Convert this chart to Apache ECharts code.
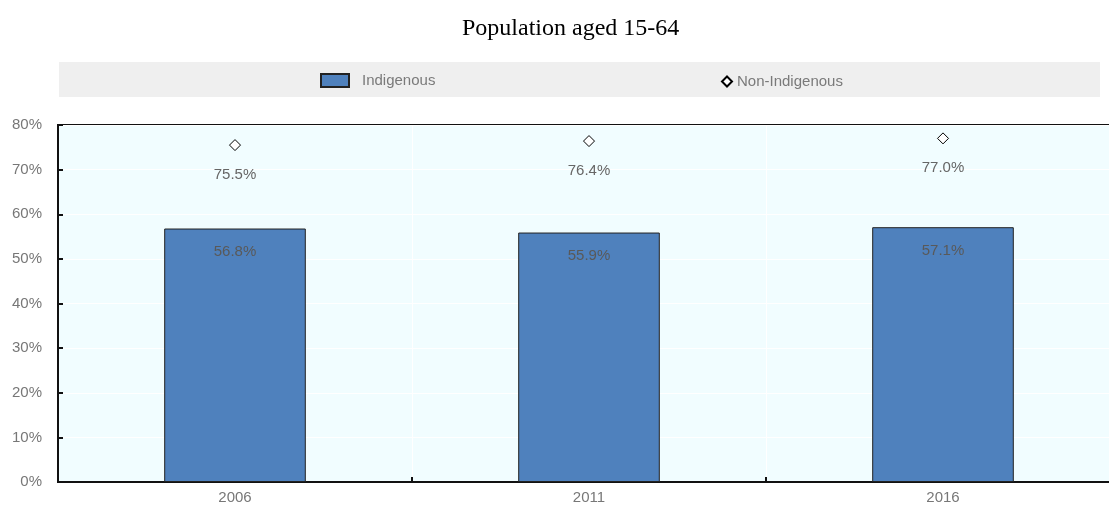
<!DOCTYPE html>
<html>
<head>
<meta charset="utf-8">
<script src="https://cdn.jsdelivr.net/npm/echarts@6/dist/echarts.min.js"></script>
<style>html,body{margin:0;padding:0;background:#fff}#c{width:1109px;height:506px}</style>
</head>
<body>
<div id="c"></div>
<script>
const categories = ['2006', '2011', '2016'];
const indigenous = [56.8, 55.9, 57.1];
const nonIndigenous = [75.5, 76.4, 77.0];
const yTicks = [0, 10, 20, 30, 40, 50, 60, 70, 80];

const chart = echarts.init(document.getElementById('c'));
const fontFam = '"Liberation Sans", Arial, sans-serif';
const legendText = {fontFamily: fontFam, fontSize: 15, color: '#7a7a7a'};
chart.setOption({
  animation: false,
  backgroundColor: '#fff',
  title: {
    text: 'Population aged 15-64',
    left: 457, top: 12,
    textStyle: {fontFamily: '"Liberation Serif", "Times New Roman", serif', fontSize: 24, fontWeight: 'normal', color: '#000'}
  },
  graphic: [{
    type: 'rect', left: 59, top: 62, shape: {width: 1041, height: 35},
    style: {fill: '#efefef'}, z: -1
  }],
  legend: [
    {
      left: 320, top: 73, padding: 0, itemWidth: 28, itemHeight: 13, itemGap: 10,
      textStyle: Object.assign({padding: [0, 0, 0, 8]}, legendText),
      data: [{name: 'Indigenous', icon: 'rect'}]
    },
    {
      left: 721, top: 74, padding: 0, itemWidth: 10, itemHeight: 10, itemGap: 4,
      textStyle: legendText,
      data: [{name: 'Non-Indigenous', icon: 'diamond'}]
    }
  ],
  grid: {
    left: 58, top: 125, bottom: 24, width: 1062, outerBoundsMode: 'none', containLabel: false,
    show: true, backgroundColor: '#f1fdff', borderColor: '#111', borderWidth: 2
  },
  xAxis: {
    type: 'category', data: categories, boundaryGap: true,
    axisLine: {lineStyle: {color: '#111', width: 2}},
    axisTick: {show: true, inside: true, length: 5, lineStyle: {color: '#111', width: 2}},
    axisLabel: {fontFamily: fontFam, fontSize: 15, color: '#777', margin: 8},
    splitLine: {show: true, lineStyle: {color: '#fff', width: 1}}
  },
  yAxis: {
    type: 'value', min: yTicks[0], max: yTicks[yTicks.length - 1], interval: 10,
    axisLine: {show: true, lineStyle: {color: '#111', width: 2}},
    axisTick: {show: true, inside: true, length: 5, lineStyle: {color: '#111', width: 2}},
    axisLabel: {fontFamily: fontFam, fontSize: 15, color: '#777', margin: 16, formatter: '{value}%'},
    splitLine: {show: true, lineStyle: {color: '#fff', width: 1}}
  },
  series: [
    {
      name: 'Indigenous', type: 'bar', data: indigenous, barWidth: '40%',
      itemStyle: {color: '#4f81bd', borderColor: '#222', borderWidth: 1},
      label: {show: true, position: 'insideTop', distance: 16, formatter: p => p.value.toFixed(1) + '%',
        fontFamily: fontFam, fontSize: 15, color: '#595959'}
    },
    {
      name: 'Non-Indigenous', type: 'scatter', data: nonIndigenous, symbol: 'diamond', symbolSize: 11,
      itemStyle: {color: '#fff', borderColor: '#000', borderWidth: 1, opacity: 1},
      label: {show: true, position: 'bottom', distance: 16, formatter: p => p.value.toFixed(1) + '%',
        fontFamily: fontFam, fontSize: 15, color: '#666'}
    }
  ]
});
</script>
</body>
</html>
